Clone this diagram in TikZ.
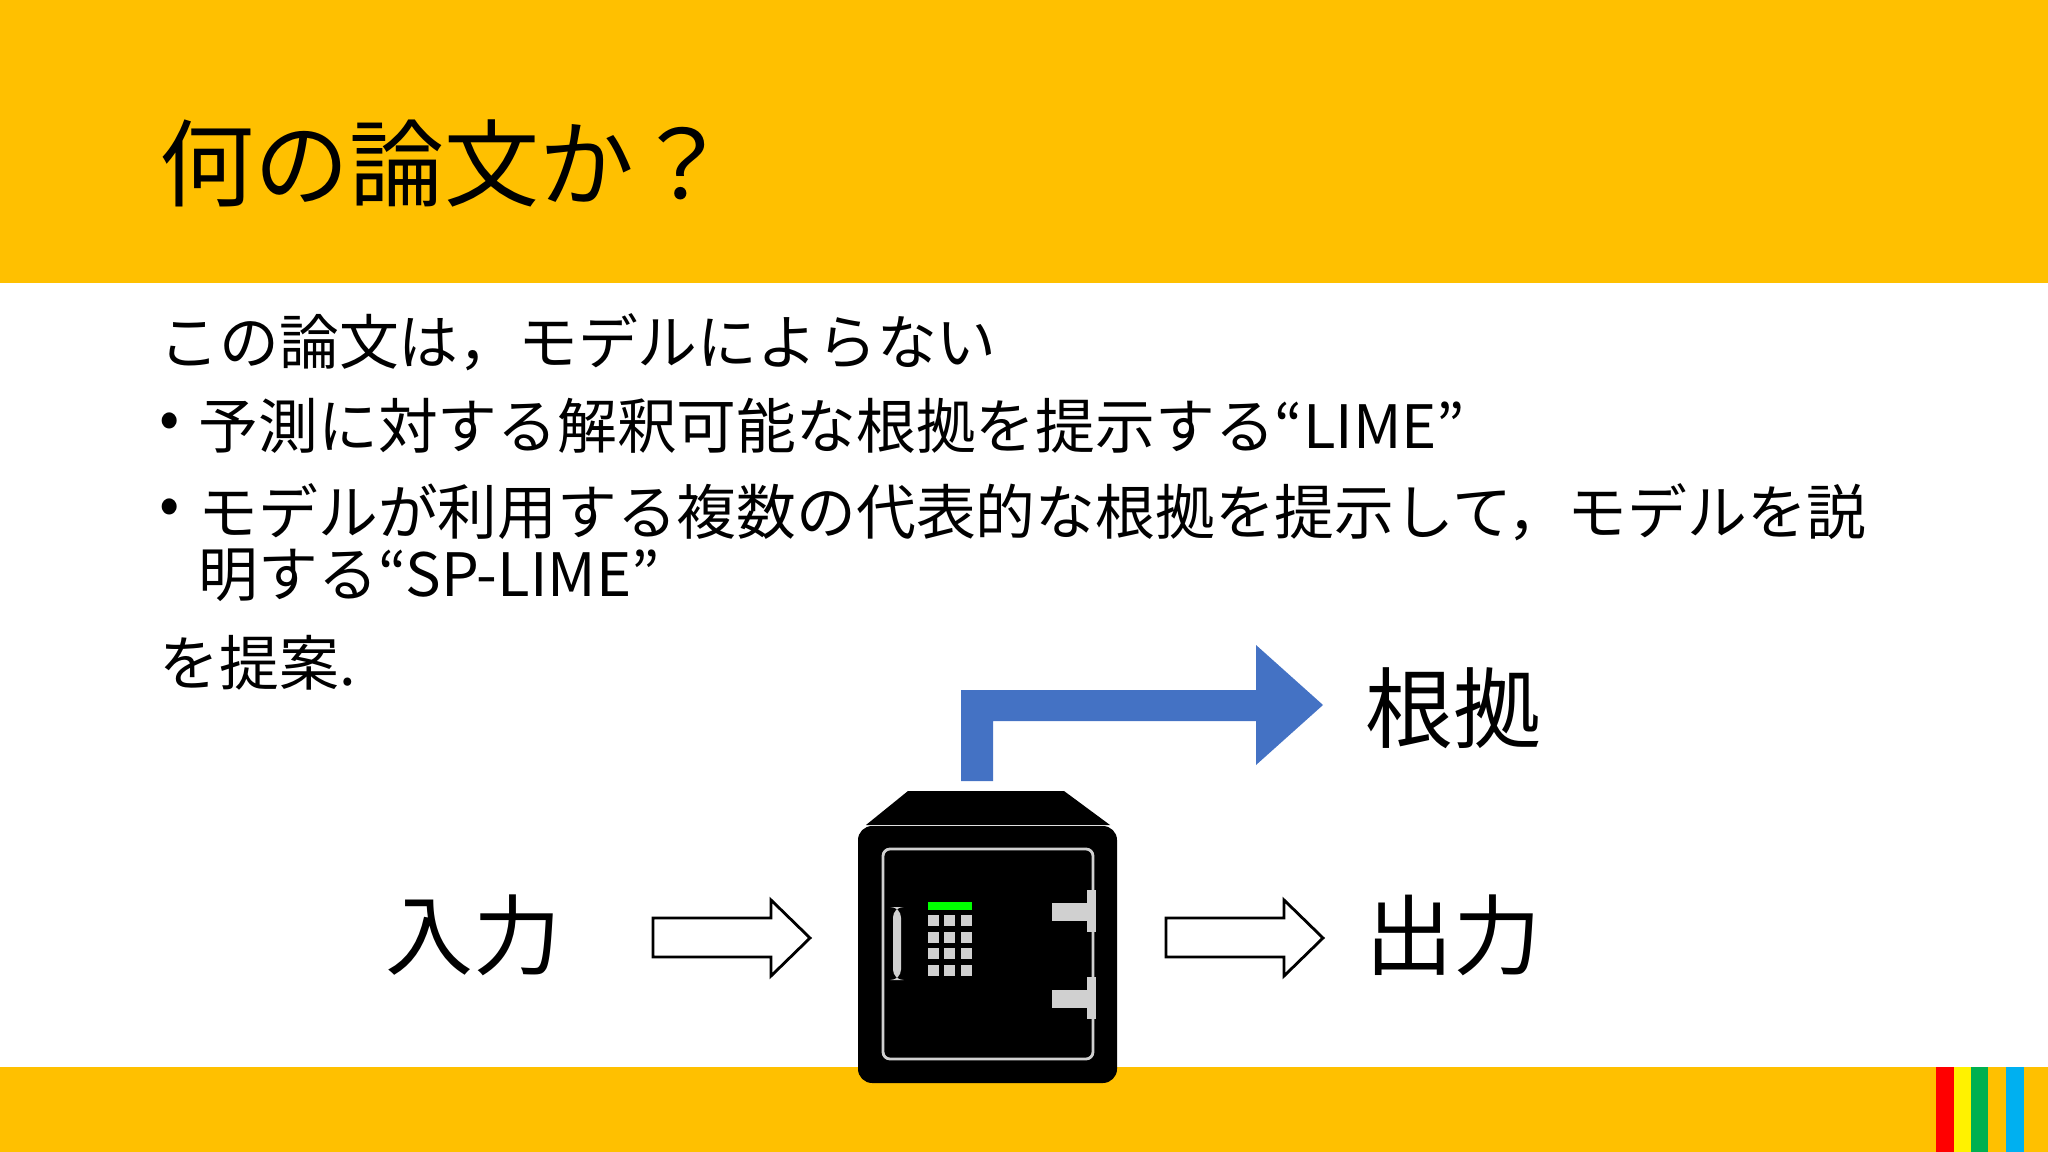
\documentclass[tikz,border=0pt]{standalone}
\usepackage{fontspec}
\setmainfont{Noto Sans CJK JP}
\definecolor{topyellow}{HTML}{FFC000}
\definecolor{bl}{HTML}{4472C4}
\definecolor{sg}{HTML}{D0D0D0}
\definecolor{stripegreen}{HTML}{00B050}
\definecolor{stripeblue}{HTML}{00B0F0}
\begin{document}
\begin{tikzpicture}[x=0.01cm,y=-0.01cm,
  body/.style={anchor=west,inner sep=0,font=\fontsize{17}{20}\selectfont},
  big/.style={inner sep=0,font=\fontsize{25}{30}\selectfont},
  warrow/.style={draw=black,fill=white,line width=0.8pt}]
\useasboundingbox (0,0) rectangle (2048,1152);
\fill[topyellow] (0,0) rectangle (2048,283);
\fill[topyellow] (0,1067) rectangle (2048,1152);
\fill[red] (1936,1067) rectangle (1954,1152);
\fill[yellow] (1954,1067) rectangle (1971,1152);
\fill[stripegreen] (1971,1067) rectangle (1988,1152);
\fill[stripeblue] (2006,1067) rectangle (2024,1152);
\node[anchor=west,inner sep=0,font=\fontsize{27}{30}\selectfont] (title) at (159,163) {何の論文か？};
\node[body] (l1) at (159,342) {この論文は，モデルによらない};
\node[body] (b1) at (159,426) {•};
\node[body] (l2) at (198,426) {予測に対する解釈可能な根拠を提示する“LIME”};
\node[body] (b2) at (159,512) {•};
\node[body] (l3) at (198,512) {モデルが利用する複数の代表的な根拠を提示して，モデルを説};
\node[body] (l4) at (198,575) {明する“SP-LIME”};
\node[body] (l5) at (159,663) {を提案.};
% safe
\fill[black] (866,825) -- (908,791) -- (1064,791) -- (1110,825) -- cycle;
\fill[black,rounded corners=4] (858,826) rectangle (1117,1083);
\draw[sg,line width=0.8pt,rounded corners=2] (883,849) rectangle (1093,1059);
\fill[green] (928,902) rectangle (972,910);
\foreach \x in {928,944,961}{\foreach \y in {915,932,948,965}{\fill[sg] (\x,\y) rectangle ++(11,11);}}
\fill[sg,rounded corners=3] (893,907) rectangle (901,980);
\foreach \y in {890,977}{
  \fill[sg] (1087,\y) rectangle ++(9,42);
  \fill[sg] (1052,\y+13) rectangle ++(36,18);}
\node[big] (in) at (473,935) {入力};
\node[big] (out) at (1453,935) {出力};
\node[big] (why) at (1453,708) {根拠};
\draw[warrow] (653,918) -- (771,918) -- (771,900) -- (810,938) -- (771,976) -- (771,957) -- (653,957) -- cycle;
\draw[warrow] (1166,918) -- (1284,918) -- (1284,900) -- (1323,938) -- (1284,976) -- (1284,957) -- (1166,957) -- cycle;
\fill[bl] (961,781) -- (961,690) -- (1256,690) -- (1256,645) -- (1323,705) -- (1256,765) -- (1256,721) -- (993,721) -- (993,781) -- cycle;
\end{tikzpicture}
\end{document}
